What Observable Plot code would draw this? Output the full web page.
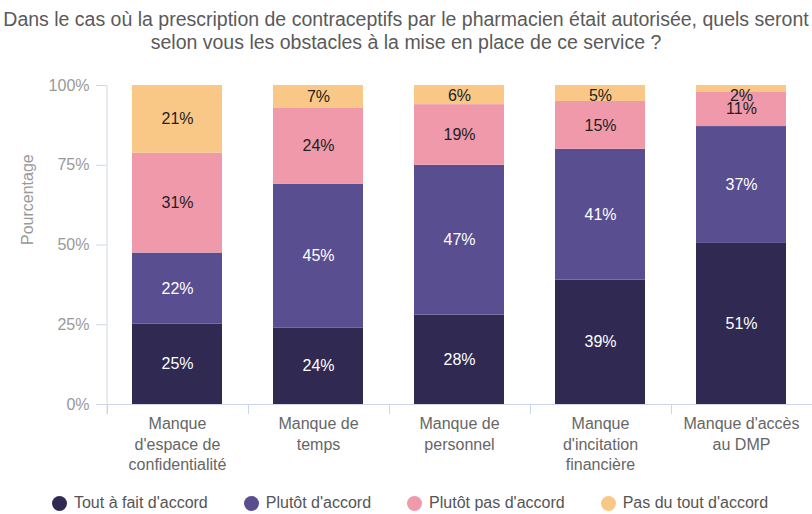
<!DOCTYPE html>
<html>
<head>
<meta charset="utf-8">
<script src="https://cdn.jsdelivr.net/npm/d3@7"></script>
<script src="https://cdn.jsdelivr.net/npm/@observablehq/plot@0.6"></script>
<style>
  html, body { margin: 0; padding: 0; background: #fff; }
  body { width: 812px; height: 514px; overflow: hidden; font-family: "Liberation Sans", Arial, sans-serif; }
  #title { height: 60px; width: 812px; text-align: center; color: #5a5a5a; font-size: 19.5px; line-height: 23px; padding-top: 8px; box-sizing: border-box; white-space: nowrap; overflow: visible; }
  #legend { height: 36px; line-height: 36px; display: flex; justify-content: center; gap: 36px; color: #555; font-size: 16px; padding-left: 8px; }
  #legend span.item { display: inline-flex; align-items: center; }
  #legend span.dot { width: 15px; height: 15px; border-radius: 50%; display: inline-block; margin-right: 7px; }
  svg { display: block; }
</style>
</head>
<body>
<div id="title">Dans le cas où la prescription de contraceptifs par le pharmacien était autorisée, quels seront<br>selon vous les obstacles à la mise en place de ce service ?</div>
<div id="chart"></div>
<div id="legend"></div>
<script>
const categories = [
  "Manque\nd'espace de\nconfidentialité",
  "Manque de\ntemps",
  "Manque de\npersonnel",
  "Manque\nd'incitation\nfinancière",
  "Manque d'accès\nau DMP"
];
const series = ["Tout à fait d'accord", "Plutôt d'accord", "Plutôt pas d'accord", "Pas du tout d'accord"];
const colors = ["#302a53", "#594e90", "#ef99ab", "#f9c887"];
const toutAFait = [25, 24, 28, 39, 51];
const plutot = [22, 45, 47, 41, 37];
const plutotPas = [31, 24, 19, 15, 11];
const pasDuTout = [21, 7, 6, 5, 2];
const yTicks = [0, 0.25, 0.5, 0.75, 1];

const seriesValues = [toutAFait, plutot, plutotPas, pasDuTout];
const table = [];
categories.forEach((c, i) => {
  const total = d3.sum(seriesValues, s => s[i]);
  let acc = 0;
  seriesValues.forEach((s, j) => {
    const v = s[i];
    const y1 = acc / total;
    acc += v;
    const y2 = acc / total;
    table.push({cat: c, series: series[j], value: v, mid: Math.min((y1 + y2) / 2, 0.968), light: j < 2});
  });
});

const axisLines = (index, scales, values, dimensions) => {
  const x = scales.x, y = scales.y;
  const g = d3.create("svg:g").attr("stroke", "#ccd6eb").attr("fill", "none");
  const y0 = y(0), yTop = y(1);
  const step = x.step ? x.step() : (dimensions.width - dimensions.marginLeft - dimensions.marginRight) / categories.length;
  const bw = x.bandwidth ? x.bandwidth() : step * 0.64;
  const start = x(categories[0]) - (step - bw) / 2;
  g.append("line").attr("x1", dimensions.marginLeft - 10).attr("x2", dimensions.width).attr("y1", y0 + 0.5).attr("y2", y0 + 0.5);
  g.append("line").attr("x1", start + 0.5).attr("x2", start + 0.5).attr("y1", yTop).attr("y2", y0 + 10);
  for (let i = 0; i <= categories.length; i++) {
    const px = Math.round(start + i * step) + 0.5;
    g.append("line").attr("x1", px).attr("x2", px).attr("y1", y0).attr("y2", y0 + 10);
  }
  return g.node();
};

const chart = Plot.plot({
  width: 812,
  height: 425,
  marginTop: 25,
  marginBottom: 81,
  marginLeft: 106,
  marginRight: 0,
  style: {fontFamily: "'Liberation Sans', Arial, sans-serif", fontSize: "16px", background: "#fff"},
  x: {domain: categories, paddingInner: 0.36, paddingOuter: 0.18, label: null},
  y: {domain: [0, 1], label: null},
  color: {domain: series, range: colors},
  marks: [
    Plot.barY(table, Plot.stackY({x: "cat", y: "value", fill: "series", order: series, offset: "normalize"})),
    Plot.text(table.filter(d => d.light), {x: "cat", y: "mid", text: d => d.value + "%", fill: "#ffffff", fontSize: 16}),
    Plot.text(table.filter(d => !d.light), {x: "cat", y: "mid", text: d => d.value + "%", fill: "#222222", fontSize: 16}),
    Plot.axisY({ticks: yTicks, tickFormat: d3.format(".0%"), tickSize: 10, tickPadding: 7, stroke: "#ccd6eb", fill: "#999", fontSize: 16, label: null}),
    Plot.axisX({tickSize: 0, tickPadding: 10, fill: "#666", fontSize: 16, lineHeight: 1.28, label: null}),
    Plot.text(["Pourcentage"], {frameAnchor: "left", dx: -79, rotate: -90, fill: "#999", fontSize: 16}),
    axisLines
  ]
});
document.getElementById("chart").appendChild(chart);

const legend = document.getElementById("legend");
series.forEach((s, i) => {
  const item = document.createElement("span");
  item.className = "item";
  const dot = document.createElement("span");
  dot.className = "dot";
  dot.style.background = colors[i];
  item.appendChild(dot);
  item.appendChild(document.createTextNode(s));
  legend.appendChild(item);
});
</script>
</body>
</html>
